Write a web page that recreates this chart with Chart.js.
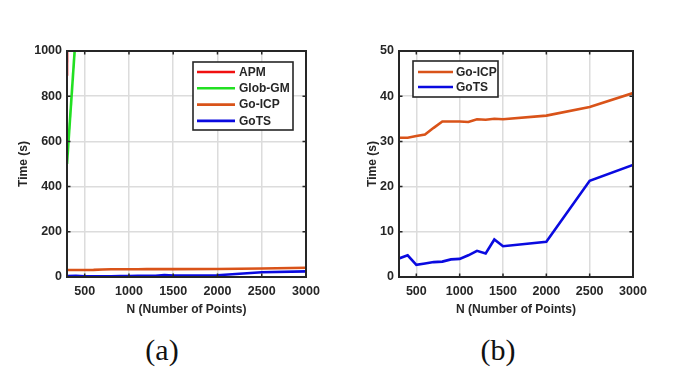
<!DOCTYPE html>
<html>
<head>
<meta charset="utf-8">
<script src="https://cdn.jsdelivr.net/npm/chart.js@4/dist/chart.umd.min.js"></script>
<style>
  html, body { margin: 0; padding: 0; background: #fff; }
  body { width: 675px; height: 392px; position: relative; overflow: hidden; }
  .wrap { position: absolute; top: 0; }
  .cap { position: absolute; font-family: "Liberation Serif", "DejaVu Serif", serif; font-size: 30px; color: #111; transform: translateX(-50%); top: 333px; }
</style>
</head>
<body>
<div class="wrap" style="left:0px; width:340px; height:330px;"><canvas id="ca" width="340" height="330"></canvas></div>
<div class="wrap" style="left:338px; width:337px; height:330px;"><canvas id="cb" width="337" height="330"></canvas></div>
<div class="cap" style="left:162px;">(a)</div>
<div class="cap" style="left:498px;">(b)</div>
<script>
// ---- Data ----
const nPoints = [300, 400, 500, 600, 700, 800, 900, 1000, 1100, 1200, 1300, 1400, 1500, 2000, 2500, 3000];
const goIcpTime = [30.8, 30.8, 31.2, 31.5, 33.0, 34.4, 34.4, 34.4, 34.3, 34.9, 34.8, 35.0, 34.9, 35.7, 37.6, 40.7];
const goTsTime  = [4.1, 4.8, 2.7, 3.0, 3.3, 3.4, 3.9, 4.0, 4.8, 5.8, 5.2, 8.3, 6.8, 7.8, 21.3, 24.8];
const apmN = [300, 400];
const apmTime = [890, 12000];
const globN = [300, 400];
const globTime = [500, 1080];
const xTicks = [500, 1000, 1500, 2000, 2500, 3000];
const yTicksA = [0, 200, 400, 600, 800, 1000];
const yTicksB = [0, 10, 20, 30, 40, 50];

const COL = { apm: '#f01010', glob: '#22e022', goicp: '#d95319', gots: '#0a0ae0' };
const DARK = '#262626';
const GRID = '#dcdcdc';
const FONT = { family: '"Liberation Sans", Arial, sans-serif', size: 12, weight: 'bold' };
const TICKFONT = { family: '"Liberation Sans", Arial, sans-serif', size: 12.5, weight: 'bold' };

function pts(xs, ys) { return xs.map((x, i) => ({ x: x, y: ys[i] })); }

function ds(label, xs, ys, color) {
  return { label, data: pts(xs, ys), borderColor: color, backgroundColor: color,
           borderWidth: 2.6, pointRadius: 0, tension: 0, clip: 0 };
}

// Box, inside ticks and in-axes legend (MATLAB style)
const matlabBox = {
  id: 'matlabBox',
  afterDatasetsDraw(chart, args, opts) {
    const { ctx, chartArea: a, scales } = chart;
    ctx.save();
    ctx.strokeStyle = DARK; ctx.lineWidth = 1.5;
    const L = 3.5;
    scales.x.ticks.forEach(t => {
      const px = scales.x.getPixelForValue(t.value);
      ctx.beginPath(); ctx.moveTo(px, a.bottom); ctx.lineTo(px, a.bottom - L);
      ctx.moveTo(px, a.top); ctx.lineTo(px, a.top + L); ctx.stroke();
    });
    scales.y.ticks.forEach(t => {
      const py = scales.y.getPixelForValue(t.value);
      ctx.beginPath(); ctx.moveTo(a.left, py); ctx.lineTo(a.left + L, py);
      ctx.moveTo(a.right, py); ctx.lineTo(a.right - L, py); ctx.stroke();
    });
    ctx.lineWidth = 2;
    ctx.strokeRect(a.left, a.top, a.right - a.left, a.bottom - a.top);
    const lg = opts;
    const bx = a.left + lg.x, by = a.top + lg.y;
    ctx.fillStyle = '#fff';
    ctx.fillRect(bx, by, lg.w, lg.h);
    ctx.lineWidth = 1.6; ctx.strokeStyle = DARK;
    ctx.strokeRect(bx, by, lg.w, lg.h);
    ctx.font = 'bold 12px "Liberation Sans", Arial, sans-serif';
    ctx.textBaseline = 'middle'; ctx.textAlign = 'left';
    chart.data.datasets.forEach((d, i) => {
      const yy = by + lg.first + i * lg.row;
      ctx.strokeStyle = d.borderColor; ctx.lineWidth = 2.6;
      ctx.beginPath(); ctx.moveTo(bx + lg.l0, yy); ctx.lineTo(bx + lg.l1, yy); ctx.stroke();
      ctx.fillStyle = DARK;
      ctx.fillText(d.label, bx + lg.tx, yy + 0.5);
    });
    ctx.restore();
  }
};

function makeChart(id, datasets, yMin, yMax, yTicks, yWidth, titlePad, padRight, legendOpts) {
  return new Chart(document.getElementById(id), {
    type: 'line',
    data: { datasets },
    options: {
      responsive: false, animation: false, devicePixelRatio: 1,
      layout: { padding: { left: 0, top: 51, right: padRight, bottom: 0 } },
      plugins: { legend: { display: false }, tooltip: { enabled: false }, matlabBox: legendOpts },
      scales: {
        x: {
          type: 'linear', min: 300, max: 3000,
          afterBuildTicks: s => { s.ticks = xTicks.map(v => ({ value: v })); },
          afterFit: s => { s.height = 53; },
          grid: { color: GRID, lineWidth: 1.5, drawTicks: false },
          border: { display: false },
          ticks: { color: DARK, font: TICKFONT, padding: 7, maxRotation: 0, autoSkip: false, callback: v => String(v) },
          title: { display: true, text: 'N (Number of Points)', color: DARK, font: FONT, padding: { top: 0, bottom: 13 } }
        },
        y: {
          type: 'linear', min: yMin, max: yMax,
          afterBuildTicks: s => { s.ticks = yTicks.map(v => ({ value: v })); },
          afterFit: s => { s.width = yWidth; },
          grid: { color: GRID, lineWidth: 1.5, drawTicks: false },
          border: { display: false },
          ticks: { color: DARK, font: TICKFONT, padding: 5, autoSkip: false, callback: v => String(v) },
          title: { display: true, text: 'Time (s)', color: DARK, font: FONT, padding: { top: titlePad, bottom: 0 } }
        }
      }
    },
    plugins: [matlabBox]
  });
}

makeChart('ca', [
  ds('APM', apmN, apmTime, COL.apm),
  ds('Glob-GM', globN, globTime, COL.glob),
  ds('Go-ICP', nPoints, goIcpTime, COL.goicp),
  ds('GoTS', nPoints, goTsTime, COL.gots)
], 0, 1000, yTicksA, 67, 16, 34,
  { x: 126, y: 11, w: 100, h: 68, first: 10, row: 16.3, l0: 4, l1: 42, tx: 46 });

makeChart('cb', [
  ds('Go-ICP', nPoints, goIcpTime, COL.goicp),
  ds('GoTS', nPoints, goTsTime, COL.gots)
], 0, 50, yTicksB, 61, 27, 337 - 295,
  { x: 14, y: 10, w: 85, h: 36, first: 11, row: 15, l0: 5, l1: 40, tx: 43 });
</script>
</body>
</html>
